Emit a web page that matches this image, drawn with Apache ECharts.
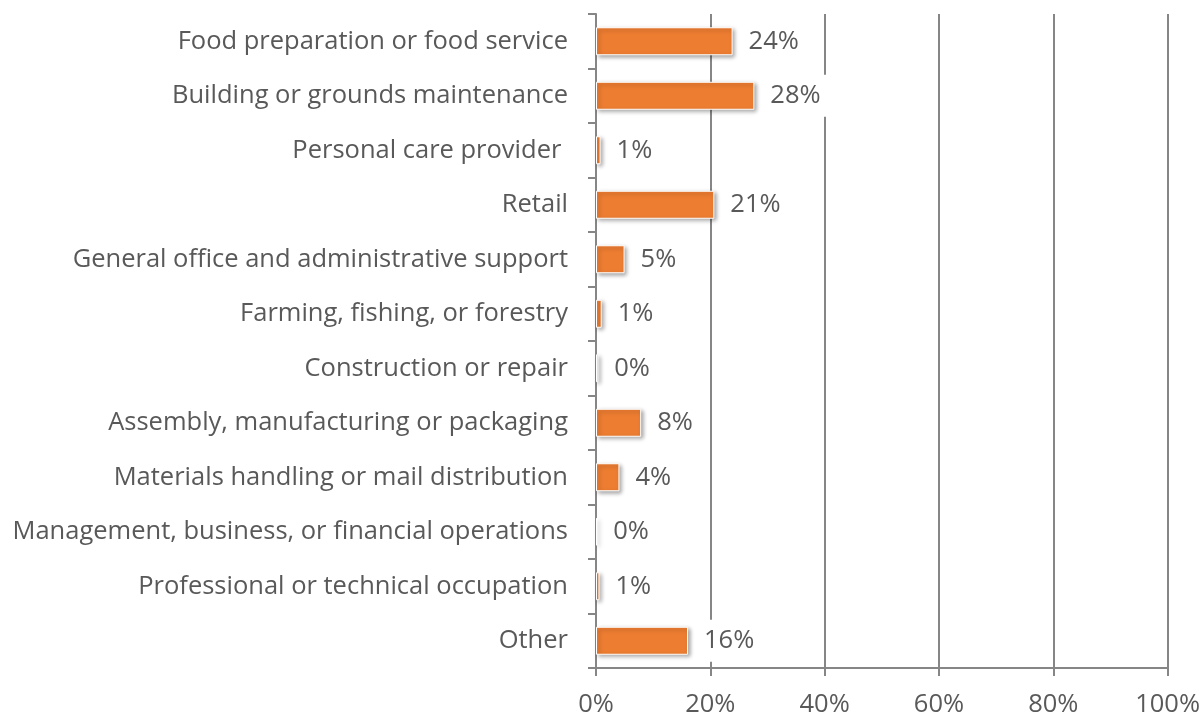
<!DOCTYPE html>
<html><head><meta charset="utf-8">
<script src="https://cdn.jsdelivr.net/npm/echarts@6/dist/echarts.min.js"></script>
<style>html,body{margin:0;padding:0;background:#fff}#c{width:1203px;height:721px}</style>
</head><body><div id="c"></div>
<script>
const categories = [
  "Food preparation or food service",
  "Building or grounds maintenance",
  "Personal care provider ",
  "Retail",
  "General office and administrative support",
  "Farming, fishing, or forestry",
  "Construction or repair",
  "Assembly, manufacturing or packaging",
  "Materials handling or mail distribution",
  "Management, business, or financial operations",
  "Professional or technical occupation",
  "Other"
];
const values = [23.9, 27.7, 0.8, 20.7, 5.0, 1.0, 0.4, 7.9, 4.1, 0.2, 0.6, 16.1];
const xTicks = [0, 20, 40, 60, 80, 100];

const chart = echarts.init(document.getElementById('c'));
const font = '"Open Sans", sans-serif';
chart.setOption({
  animation: false,
  grid: {left: 596, right: 35, top: 14, bottom: 53},
  xAxis: {
    type: 'value', min: 0, max: 100, interval: 20,
    axisLine: {show: true, lineStyle: {color: '#868686', width: 2}},
    axisTick: {show: true, length: 8, lineStyle: {color: '#868686', width: 2}},
    splitLine: {show: true, lineStyle: {color: '#868686', width: 2}},
    axisLabel: {formatter: v => v + '%', color: '#595959', fontSize: 25.5, fontFamily: font, margin: 24}
  },
  yAxis: {
    type: 'category', data: categories, inverse: true,
    axisLine: {show: true, lineStyle: {color: '#868686', width: 2}},
    axisTick: {show: true, length: 8, lineStyle: {color: '#868686', width: 2}},
    axisLabel: {color: '#595959', fontSize: 25.5, fontFamily: font, margin: 28}
  },
  series: [{
    type: 'bar', data: values, barWidth: 28,
    itemStyle: {color: '#ED7D31', borderColor: '#fff', borderWidth: 1,
      shadowColor: 'rgba(0,0,0,0.35)', shadowBlur: 4, shadowOffsetX: 2, shadowOffsetY: 2},
    label: {show: true, position: 'right', distance: 10,
      formatter: p => Math.round(p.value) + '%',
      color: '#595959', fontSize: 25.5, fontFamily: font,
      backgroundColor: '#fff', padding: [8, 6, 8, 6]}
  }]
});
</script></body></html>
